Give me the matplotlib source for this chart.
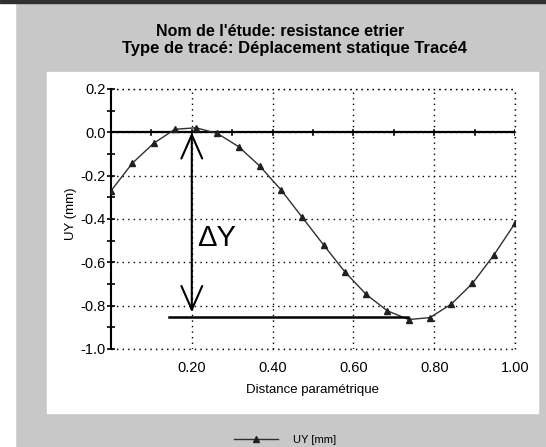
import numpy as np
import matplotlib
matplotlib.use("Agg")
import matplotlib.pyplot as plt
from matplotlib.patches import Rectangle
from matplotlib.ticker import MultipleLocator, FixedLocator

# data
dist = [i / 19 for i in range(20)]
uy = [-0.27, -0.143, -0.051, 0.014, 0.021, -0.005, -0.066, -0.156, -0.266, -0.393,
      -0.52, -0.644, -0.748, -0.824, -0.864, -0.855, -0.793, -0.697, -0.567, -0.42]

title1 = "Nom de l'étude: resistance etrier"
title2 = "Type de tracé: Déplacement statique Tracé4"
xticks = [0.2, 0.4, 0.6, 0.8, 1.0]
yticks = [-1.0, -0.8, -0.6, -0.4, -0.2, 0.0, 0.2]

# hand annotations on the scan
arrow_x = 0.2
arrow_bottom = -0.83
min_level = -0.852
min_line_x = [0.144, 0.735]

narrow = ["Liberation Sans Narrow", "Liberation Sans", "DejaVu Sans"]
plt.rcParams["font.family"] = narrow

fig = plt.figure(figsize=(5.46, 4.47), dpi=100, facecolor="#c8c8c8")
# white plot panel, white scan edge and dark top border
fig.patches.append(Rectangle((47 / 546, 1 - 413 / 447), 491 / 546, 341 / 447,
                             transform=fig.transFigure, color="white", zorder=-1))
fig.patches.append(Rectangle((0, 0), 15 / 546, 1, transform=fig.transFigure,
                             color="white", zorder=-1))
fig.patches.append(Rectangle((0, 1 - 3 / 447), 1, 3 / 447, transform=fig.transFigure,
                             color="#303030", zorder=-1))

ax = fig.add_axes([111 / 546, 1 - 349 / 447, 404 / 546, 260 / 447])
ax.set_zorder(1)
ax.set_facecolor("white")

line, = ax.plot(dist, uy, color="#303030", lw=1, marker="^", ms=4.5,
                mfc="#202020", mec="#202020", zorder=4)

ax.set_xlim(0, 1)
ax.set_ylim(-1.0, 0.2)
for s in ["top", "right", "bottom"]:
    ax.spines[s].set_visible(False)
ax.spines["left"].set_linewidth(1.5)

ax.xaxis.set_major_locator(FixedLocator(xticks))
ax.set_xticklabels(["%.2f" % v for v in xticks])
ax.yaxis.set_major_locator(FixedLocator(yticks))
ax.yaxis.set_minor_locator(MultipleLocator(0.1))
ax.set_yticklabels(["%.1f" % v for v in yticks])
ax.tick_params(axis="x", length=0, pad=9, labelsize=10.5)
ax.tick_params(axis="y", which="both", direction="inout", length=6, width=1.2,
               labelsize=10.5, pad=1)

ax.grid(True, color="black", linestyle=(0, (1, 3)), lw=1)
ax.axhline(-1.0, color="black", linestyle=(0, (1, 3)), lw=1, clip_on=False)
ax.axhline(0.2, color="black", linestyle=(0, (1, 3)), lw=1, clip_on=False)
ax.axvline(1.0, color="black", linestyle=(0, (1, 3)), lw=1, clip_on=False)

# zero line acting as x axis with its own ticks
ax.axhline(0, color="black", lw=1.6, zorder=3)
for t in np.arange(0.1, 1.01, 0.1):
    ax.plot([t, t], [-0.012, 0.012], color="black", lw=1.2, zorder=3)

ax.set_xlabel("Distance paramétrique", fontsize=9.5)
ax.xaxis.set_label_coords(0.5, -0.135)
ax.set_ylabel("UY (mm)", fontsize=9.5)
ax.yaxis.set_label_coords(-0.085, 0.52)

# delta Y annotation
ax.annotate("", xy=(arrow_x, 0), xytext=(arrow_x, arrow_bottom),
            arrowprops=dict(arrowstyle="<->,head_length=1.7,head_width=0.75",
                            lw=1.5, color="black", shrinkA=0, shrinkB=0), zorder=5)
ax.plot(min_line_x, [min_level, min_level], color="black", lw=1.8, zorder=5)
ax.text(0.213, -0.49, "ΔY", fontsize=21, va="center", ha="left",
        family=["Liberation Sans", "DejaVu Sans"])

fig.text(280 / 546, 1 - 32 / 447, title1, ha="center", va="center",
         fontsize=11.5, fontweight="bold", family=["Liberation Sans", "DejaVu Sans"])
fig.text(294 / 546, 1 - 48 / 447, title2, ha="center", va="center",
         fontsize=12, fontweight="bold", family=["Liberation Sans", "DejaVu Sans"])

fig.legend(handles=[line], labels=["UY [mm]"], loc="center",
           bbox_to_anchor=(285 / 546, 1 - 440 / 447), frameon=False, fontsize=8,
           handlelength=4, handletextpad=1.3)

fig.savefig("out.png", dpi=100, facecolor=fig.get_facecolor())
